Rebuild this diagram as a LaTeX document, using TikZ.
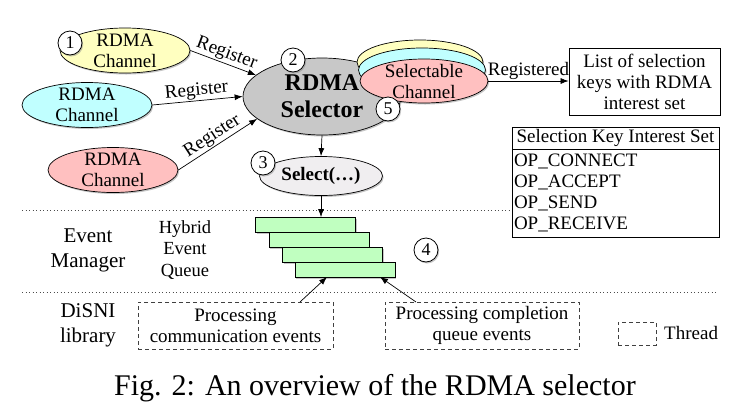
\documentclass[tikz,border=0pt]{standalone}
\usepackage{fontspec}
\setmainfont{Liberation Serif}
\usetikzlibrary{shapes.geometric,arrows.meta,shadows}
\definecolor{cyel}{RGB}{255,255,192}
\definecolor{ccya}{RGB}{192,255,255}
\definecolor{cpnk}{RGB}{255,192,192}
\definecolor{cgrn}{RGB}{192,255,192}
\definecolor{cgry}{RGB}{200,200,200}
\definecolor{csel}{RGB}{240,238,240}
\tikzset{
  shad/.style={drop shadow={shadow xshift=1.2pt,shadow yshift=-1.5pt,opacity=.45}},
  txt/.style={font=\fontsize{19}{21}\selectfont, align=center, inner sep=0pt},
  chan/.style={ellipse, draw, line width=0.7pt, minimum width=130pt, minimum height=45pt, inner sep=0pt, shad},
  num/.style={circle, draw, fill=white, line width=0.8pt, minimum size=24pt, inner sep=0pt, font=\fontsize{18}{18}\selectfont, shad},
  arr/.style={-{Latex[length=8pt,width=6pt]}, line width=0.7pt},
  lbl/.style={font=\fontsize{19}{21}\selectfont, inner sep=1pt},
  qbox/.style={draw, fill=cgrn, line width=0.8pt, minimum width=100pt, minimum height=15pt, inner sep=0pt, shad},
  thr/.style={draw=black!75, dash pattern=on 4pt off 3pt, line width=0.8pt, inner sep=0pt},
  sepline/.style={draw=black!70, dash pattern=on 1pt off 2.5pt, line width=0.9pt},
  tbl/.style={draw, line width=0.8pt, minimum width=207pt, inner sep=0pt, font=\fontsize{19}{21}\selectfont}
}
\begin{document}
\begin{tikzpicture}[x=1pt,y=-1pt]
\useasboundingbox (0,0) rectangle (733,405);

% RDMA channels
\node[chan, fill=cyel, label={[txt]center:RDMA\\Channel}] (c1) at (125,50.5) {};
\node[chan, fill=ccya, label={[txt]center:RDMA\\Channel}] (c2) at (87,105) {};
\node[chan, fill=cpnk, label={[txt]center:RDMA\\Channel}] (c3) at (113,170) {};

% selector
\node[ellipse, draw, fill=cgry, line width=0.7pt, minimum width=158pt, minimum height=77pt, inner sep=0pt, shad,
      label={[txt, font=\fontsize{24}{27}\selectfont\bfseries]center:RDMA\\Selector}] (sel) at (322,96.5) {};

% selectable channel stack
\node[ellipse, draw, fill=cyel, line width=0.7pt, minimum width=126pt, minimum height=44pt, inner sep=0pt, shad] (sy) at (420,62) {};
\node[ellipse, draw, fill=ccya, line width=0.7pt, minimum width=127pt, minimum height=44pt, inner sep=0pt, shad] (sc) at (422,70) {};
\node[ellipse, draw, fill=cpnk, line width=0.7pt, minimum width=128pt, minimum height=44pt, inner sep=0pt, shad,
      label={[txt]center:Selectable\\Channel}] (sp) at (424,81) {};

% Select(...)
\node[ellipse, draw, fill=csel, line width=0.7pt, minimum width=123pt, minimum height=39pt, inner sep=0pt, shad,
      label={[txt, font=\fontsize{19}{21}\selectfont\bfseries]center:Select(…)}] (sl) at (321,176) {};

% list box
\node[draw, line width=0.8pt, txt, minimum width=151pt, minimum height=67pt] (list) at (644.5,81.5) {List of selection\\keys with RDMA\\interest set};

% table
\node[tbl, minimum height=22pt] (th) at (615.5,138) {Selection Key Interest Set};
\node[tbl, minimum height=88pt, text width=203pt, align=left, line width=0.8pt] (tb) at (615.5,193)
  {OP\_CONNECT\\OP\_ACCEPT\\OP\_SEND\\OP\_RECEIVE};

% register arrows
\draw[arr] (c1.east) -- node[lbl, sloped, above] {Register} (sel.162);
\draw[arr] (c2.east) -- node[lbl, sloped, above] {Register} (sel.west);
\draw[arr] (c3.east) -- node[lbl, sloped, above] {Register} (sel.199);
\draw[arr] (sp.east) -- node[lbl, above] {Registered} (sp.east -| list.west);

% separators
\coordinate (s1a) at (22,210);
\coordinate (s2a) at (22,292);
\coordinate (s2b) at (718,292);
\draw[sepline] (s1a) -- (s1a -| tb.west);
\draw[sepline] (s2a) -- (s2b);

% queue
\node[qbox] (q1) at (305.5,225) {};
\node[qbox] (q2) at (319,239.5) {};
\node[qbox] (q3) at (332.5,254.5) {};
\node[qbox] (q4) at (345,269.5) {};

\draw[arr] (sel.south) -- (sl.north);
\draw[arr] (sl.south) -- (sl.south |- q1.north);

% side labels
\node[txt, font=\fontsize{21}{25}\selectfont] (em) at (88,250.5) {Event\\Manager};
\node[txt, font=\fontsize{18.5}{21.5}\selectfont] (hq) at (185,250) {Hybrid\\Event\\Queue};
\node[txt, font=\fontsize{21}{25}\selectfont] (dl) at (88,325.5) {DiSNI\\library};

% threads
\node[thr, txt, minimum width=195pt, minimum height=47pt] (d1) at (235.5,325.5) {Processing\\communication events};
\node[thr, txt, minimum width=194pt, minimum height=47pt] (d2) at (482,325.5) {Processing completion\\queue events};
\node[thr, minimum width=38pt, minimum height=23pt] (tk) at (637,333.5) {};
\node[txt, anchor=west] (tt) at (664,333) {Thread};

\coordinate (d1t) at (300,302);
\coordinate (d2t) at (416,302);
\coordinate (q4a) at (327,277);
\coordinate (q4b) at (380,277);
\draw[arr] (d1t) -- (q4a);
\draw[arr] (d2t) -- (q4b);

% numbers
\node[num] (n1) at (70,43) {1};
\node[num] (n2) at (293,60) {2};
\node[num] (n3) at (263,163) {3};
\node[num] (n4) at (426,250) {4};
\node[num] (n5) at (388,109) {5};

% caption
\node[anchor=base, inner sep=0pt, font=\fontsize{30}{32}\selectfont] (cap) at (375,395) {Fig. 2: An overview of the RDMA selector};
\end{tikzpicture}
\end{document}
